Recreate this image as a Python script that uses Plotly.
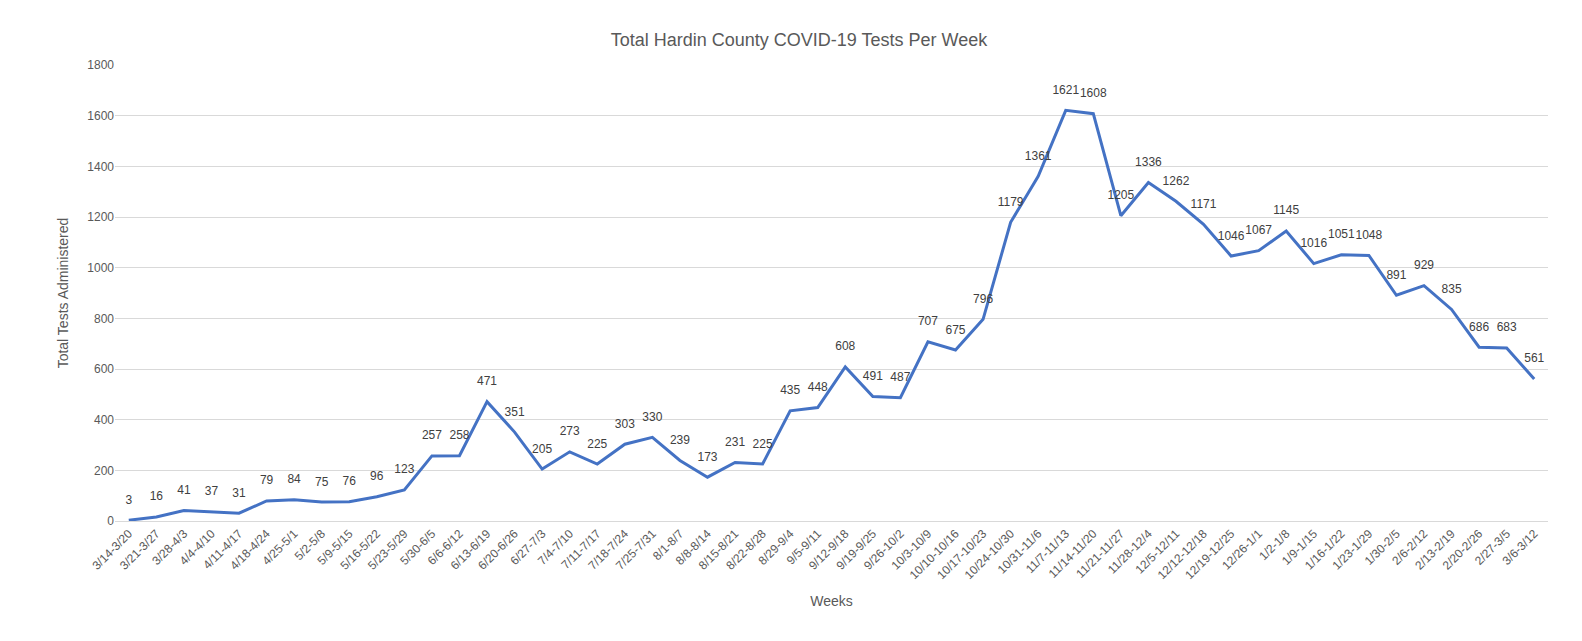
import plotly.graph_objects as go

weeks = ["3/14-3/20","3/21-3/27","3/28-4/3","4/4-4/10","4/11-4/17","4/18-4/24","4/25-5/1","5/2-5/8","5/9-5/15","5/16-5/22","5/23-5/29","5/30-6/5","6/6-6/12","6/13-6/19","6/20-6/26","6/27-7/3","7/4-7/10","7/11-7/17","7/18-7/24","7/25-7/31","8/1-8/7","8/8-8/14","8/15-8/21","8/22-8/28","8/29-9/4","9/5-9/11","9/12-9/18","9/19-9/25","9/26-10/2","10/3-10/9","10/10-10/16","10/17-10/23","10/24-10/30","10/31-11/6","11/7-11/13","11/14-11/20","11/21-11/27","11/28-12/4","12/5-12/11","12/12-12/18","12/19-12/25","12/26-1/1","1/2-1/8","1/9-1/15","1/16-1/22","1/23-1/29","1/30-2/5","2/6-2/12","2/13-2/19","2/20-2/26","2/27-3/5","3/6-3/12"]
tests = [3,16,41,37,31,79,84,75,76,96,123,257,258,471,351,205,273,225,303,330,239,173,231,225,435,448,608,491,487,707,675,796,1179,1361,1621,1608,1205,1336,1262,1171,1046,1067,1145,1016,1051,1048,891,929,835,686,683,561]

fig = go.Figure(go.Scatter(
    x=weeks, y=tests, mode="lines+markers+text", text=[str(v) for v in tests],
    textposition="top center", textfont=dict(size=12, color="#404040"),
    marker=dict(size=20, opacity=0),
    line=dict(color="#4472C4", width=3), cliponaxis=False))
fig.update_layout(
    width=1582, height=641, plot_bgcolor="white", paper_bgcolor="white",
    margin=dict(l=107, r=42, t=57, b=128),
    font=dict(family="Liberation Sans, Arial", color="#595959"),
    title=dict(text="Total Hardin County COVID-19 Tests Per Week", x=0.5, y=0.96,
               font=dict(size=18, color="#595959")),
    showlegend=False)
fig.update_xaxes(title=dict(text="Weeks", font=dict(size=14)), tickangle=-45,
                 tickfont=dict(size=12), showline=True, linecolor="#d9d9d9",
                 showgrid=False, range=[-0.5, len(weeks)-0.5])
fig.update_yaxes(title=dict(text="Total Tests Administered", font=dict(size=14)),
                 range=[0, 1800], dtick=200, gridcolor="#d9d9d9",
                 tickfont=dict(size=12), zeroline=False)
fig.write_html("out.html")
